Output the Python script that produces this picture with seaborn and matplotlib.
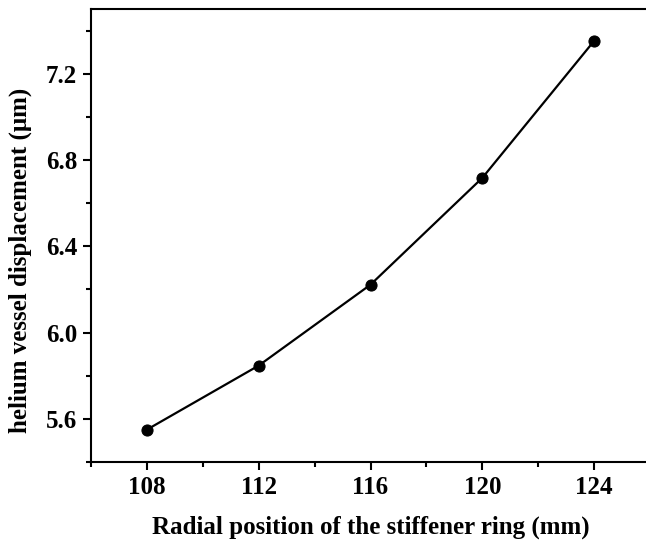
import matplotlib
matplotlib.use("Agg")
import matplotlib.pyplot as plt
import seaborn as sns
import pandas as pd
from matplotlib.ticker import MultipleLocator

positions = [108, 112, 116, 120, 124]
displacement = [5.55, 5.847, 6.222, 6.717, 7.352]
xlabel = "Radial position of the stiffener ring (mm)"
ylabel = "helium vessel displacement (\u03bcm)"

sns.set_style("ticks")
plt.rcParams['font.family'] = ['Liberation Serif', 'DejaVu Serif']
plt.rcParams['font.weight'] = 'bold'
plt.rcParams['text.color'] = 'black'
plt.rcParams['axes.labelcolor'] = 'black'
plt.rcParams['xtick.color'] = 'black'
plt.rcParams['ytick.color'] = 'black'

df = pd.DataFrame({"x": positions, "y": displacement})

fig = plt.figure(figsize=(6.46, 5.41), dpi=100)
W, H = 646, 541
left, right, top, bottom = 91, 650, 9, 462
ax = fig.add_axes([left / W, 1 - bottom / H, (right - left) / W, (bottom - top) / H])

sns.lineplot(data=df, x="x", y="y", ax=ax, color="black", linewidth=1.6,
             marker="o", markersize=8, markeredgecolor="black", markerfacecolor="black")

ax.set_xlim(106, 126)
ax.set_ylim(5.4, 7.5)
ax.xaxis.set_major_locator(MultipleLocator(4))
ax.xaxis.set_minor_locator(MultipleLocator(2))
ax.yaxis.set_major_locator(MultipleLocator(0.4))
ax.yaxis.set_minor_locator(MultipleLocator(0.2))
ax.tick_params(which='major', direction='out', length=6, width=1.5, labelsize=18, pad=4,
               colors='black')
ax.tick_params(which='minor', direction='out', length=3.5, width=1.5, colors='black')
ax.yaxis.set_major_formatter(matplotlib.ticker.FormatStrFormatter('%.1f'))
for lab in ax.get_xticklabels() + ax.get_yticklabels():
    lab.set_fontweight('bold')
for s in ['left', 'bottom', 'top', 'right']:
    ax.spines[s].set_linewidth(1.5)
    ax.spines[s].set_color('black')

ax.set_xlabel(xlabel, fontsize=18, fontweight='bold', labelpad=12, color='black')
ax.set_ylabel(ylabel, fontsize=18, fontweight='bold', color='black')
ax.yaxis.set_label_coords(-0.105, 0.446)

fig.savefig("out.png", dpi=100)
